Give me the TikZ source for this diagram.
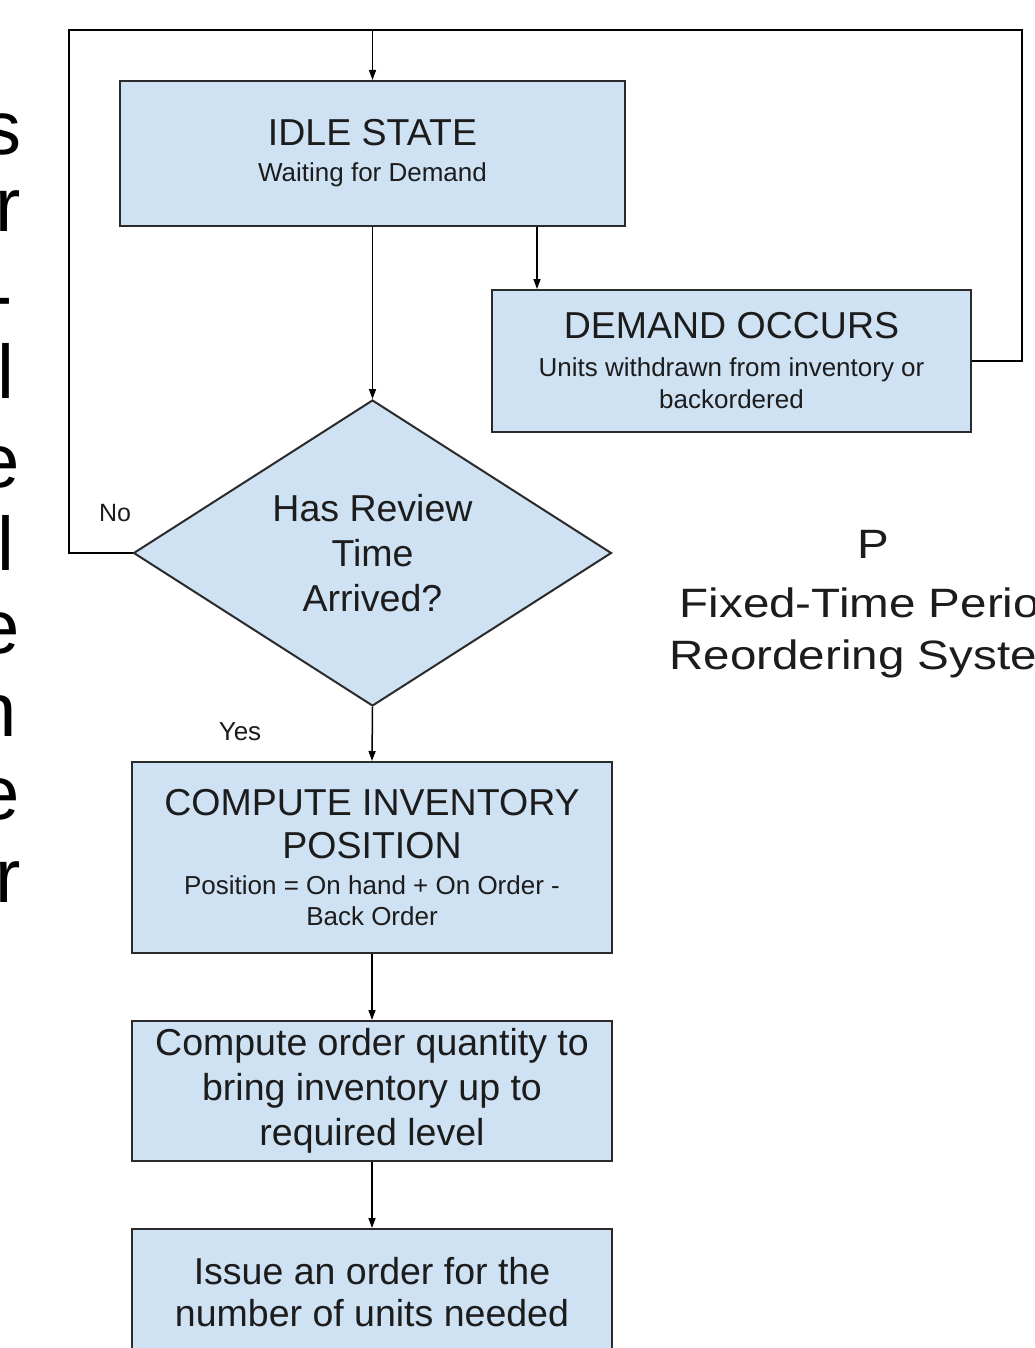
\documentclass[tikz,border=0pt]{standalone}
\usepackage{fontspec}
\setmainfont{Liberation Sans}
\newfontfamily\widesans[FakeStretch=1.16]{Liberation Sans}
\usetikzlibrary{arrows.meta,shapes.geometric}

\definecolor{boxfill}{HTML}{CFE2F3}
\definecolor{boxline}{HTML}{2B2B2B}
\definecolor{ink}{HTML}{1C1C1C}

% type sizes (1pt = one unit of the drawing)
\newcommand\szbig{\fontsize{37.5}{45}\selectfont}
\newcommand\szsmall{\fontsize{26}{32}\selectfont}
\newcommand\szlabel{\fontsize{25}{30}\selectfont}
\newcommand\sztitle{\widesans\fontsize{41}{52}\selectfont}
\newcommand\szedge{\fontsize{76}{83}\selectfont}

\begin{document}
\begin{tikzpicture}[x=1pt, y=-1pt,
  flowbox/.style={rectangle, draw=boxline, line width=2pt, fill=boxfill,
    text=ink, align=center, inner sep=0pt},
  decision/.style={diamond, aspect=1.56, draw=boxline, line width=2pt,
    fill=boxfill, text=ink, align=center, inner sep=0pt,
    minimum width=478pt, minimum height=306pt},
  link/.style={draw=black, line width=1.5pt},
  arrowlink/.style={link, -{Triangle[length=10pt,width=7pt]}},
  note/.style={text=ink, inner sep=0pt},
  edgeletter/.style={text=black, inner sep=0pt, anchor=base east, font=\szedge},
]
\useasboundingbox (0,0) rectangle (1034,1348);
\clip (0,0) rectangle (1034,1348);
\fill[white] (0,0) rectangle (1034,1348);

% line ends of the large text running off the left edge
\node[edgeletter] (e1)  at (22,155) {s};
\node[edgeletter] (e2)  at (21,232) {r};
\node[edgeletter] (e3)  at (13,321) {-};
\node[edgeletter] (e4)  at (15,398) {l};
\node[edgeletter] (e5)  at (20,487) {e};
\node[edgeletter] (e6)  at (15,570) {l};
\node[edgeletter] (e7)  at (20,653) {e};
\node[edgeletter] (e8)  at (17,736) {n};
\node[edgeletter] (e9)  at (20,819) {e};
\node[edgeletter] (e10) at (21,902) {r};

% flowchart steps
\node[flowbox, minimum width=505pt, minimum height=145pt, font=\szsmall]
  (idle) at (372.5,153.5) {{\szbig IDLE STATE}\\[4pt]Waiting for Demand};

\node[flowbox, minimum width=479pt, minimum height=142pt, font=\szsmall]
  (demand) at (731.5,361) {{\szbig DEMAND OCCURS}\\[6pt]Units withdrawn from inventory or\\backordered};

\node[decision, font=\szbig] (review) at (372.5,553) {Has Review\\Time\\Arrived?};

\node[flowbox, minimum width=480pt, minimum height=191pt, font=\fontsize{26}{31}\selectfont]
  (compute) at (372,857.5) {{\szbig COMPUTE INVENTORY}\\[12pt]{\szbig POSITION}\\[5pt]Position = On hand + On Order -\\Back Order};

\node[flowbox, minimum width=480pt, minimum height=140pt, font=\szbig]
  (quantity) at (372,1091) {Compute order quantity to\\bring inventory up to\\required level};

\node[flowbox, minimum width=480pt, minimum height=127pt, font=\fontsize{37.5}{42}\selectfont]
  (issue) at (372,1292.5) {Issue an order for the\\number of units needed};

% title on the right
\node[note, align=center, font=\sztitle] (title) at (873,604) {P\\[7pt]Fixed-Time Period\\Reordering System};

% branch labels
\node[note, font=\szlabel] (nolabel) at (115,513) {No};
\node[note, font=\szsmall] (yeslabel) at (240,732) {Yes};

% routing points of the feedback loops
\coordinate (loopR) at (1022,30);
\coordinate (loopL) at (69,30);
\coordinate (branch) at (537,0);

% connectors
\draw[arrowlink] (idle.south) -- (review.north);
\draw[arrowlink] (idle.south -| branch) -- (demand.north -| branch);
\draw[arrowlink] (demand.east) -| (loopR) -| (idle.north);
\draw[link] (review.west) -| (loopL) -- (idle.north |- loopL);
\draw[arrowlink] (review.south) -- (compute.north);
\draw[arrowlink] (compute.south) -- (quantity.north);
\draw[arrowlink] (quantity.south) -- (issue.north);
\end{tikzpicture}
\end{document}
